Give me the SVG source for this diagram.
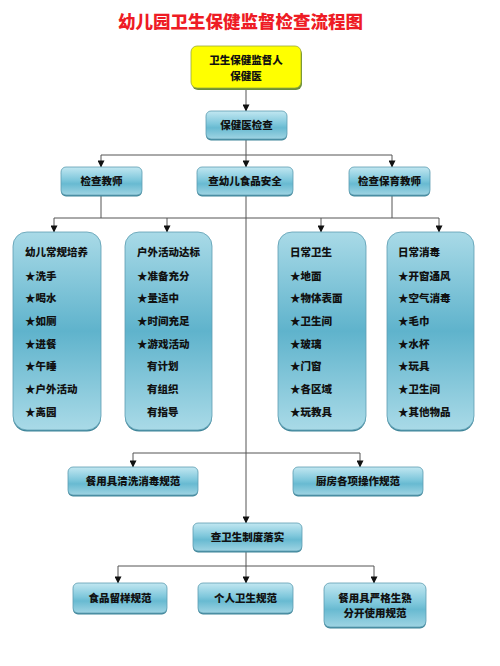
<svg xmlns="http://www.w3.org/2000/svg" width="500" height="666" viewBox="0 0 500 666">
<defs>
<linearGradient id="g" x1="0" y1="0" x2="0" y2="1">
<stop offset="0" stop-color="#c2e7f1"/>
<stop offset="0.45" stop-color="#80c8dc"/>
<stop offset="0.6" stop-color="#68bad1"/>
<stop offset="1" stop-color="#9fd4e3"/>
</linearGradient>
<linearGradient id="gt" x1="0" y1="0" x2="0" y2="1">
<stop offset="0" stop-color="#a9dae7"/>
<stop offset="0.5" stop-color="#5fb3cc"/>
<stop offset="1" stop-color="#a9dae7"/>
</linearGradient>
<marker id="ar" viewBox="0 0 8 8" refX="7.5" refY="4" markerWidth="7" markerHeight="7" orient="auto" markerUnits="userSpaceOnUse">
<path d="M0,0 L8,4 L0,8 Z" fill="#111"/>
</marker>
<style>
.b{fill:url(#g);stroke:#5d9db1;stroke-width:0.8}
.t{fill:url(#gt);stroke:#5d9db1;stroke-width:0.8}
.s{fill:#3f8599}
.c{fill:none;stroke:#555;stroke-width:1}
.a{fill:none;stroke:#555;stroke-width:1;marker-end:url(#ar)}
text{font-family:"Noto Sans CJK SC","Noto Sans",sans-serif;font-weight:900;font-size:10.5px;fill:#111}
.m{text-anchor:middle}
</style>
</defs>
<rect width="500" height="666" fill="#fff"/>
<text x="240.5" y="28" class="m" style="font-size:17.5px;fill:#ee1c25">幼儿园卫生保健监督检查流程图</text>

<g id="connectors">
<path class="a" d="M246,88 V111"/>
<path class="c" d="M246,139 V155"/>
<path class="c" d="M101,155 H392"/>
<path class="a" d="M101,155 V167"/>
<path class="a" d="M246,155 V167"/>
<path class="a" d="M392,155 V167"/>
<path class="c" d="M101,195 V218"/>
<path class="c" d="M392,195 V218"/>
<path class="c" d="M54,218 H439"/>
<path class="a" d="M54,218 V232"/>
<path class="a" d="M167,218 V232"/>
<path class="a" d="M321,218 V232"/>
<path class="a" d="M439,218 V232"/>
<path class="a" d="M246,195 V523"/>
<path class="c" d="M133,453 H360"/>
<path class="a" d="M133,453 V467"/>
<path class="a" d="M360,453 V467"/>
<path class="c" d="M246,551 V566"/>
<path class="c" d="M118,566 H374"/>
<path class="a" d="M118,566 V583"/>
<path class="a" d="M246,566 V583"/>
<path class="a" d="M374,566 V583"/>
</g>

<g id="supervisor">
<rect x="192" y="48" width="110" height="42" rx="6" fill="#6a8f3a"/>
<rect x="191" y="46" width="110" height="42" rx="6" fill="#ffff00" stroke="#9aa83a" stroke-width="0.8"/>
<text x="246" y="64" class="m">卫生保健监督人</text>
<text x="246" y="80" class="m">保健医</text>
</g>

<g id="doctor-check">
<rect x="206" y="112.5" width="81" height="28" rx="5" class="s"/>
<rect x="206" y="111" width="81" height="28" rx="5" class="b"/>
<text x="246.5" y="129" class="m">保健医检查</text>
</g>

<g id="check-teacher">
<rect x="61" y="168.5" width="81" height="28" rx="5" class="s"/>
<rect x="61" y="167" width="81" height="28" rx="5" class="b"/>
<text x="101.5" y="185" class="m">检查教师</text>
</g>
<g id="food-safety">
<rect x="197" y="168.5" width="96" height="28" rx="5" class="s"/>
<rect x="197" y="167" width="96" height="28" rx="5" class="b"/>
<text x="245" y="185" class="m">查幼儿食品安全</text>
</g>
<g id="check-care-teacher">
<rect x="349" y="168.5" width="81" height="28" rx="5" class="s"/>
<rect x="349" y="167" width="81" height="28" rx="5" class="b"/>
<text x="389.5" y="185" class="m">检查保育教师</text>
</g>

<g id="routine">
<rect x="13" y="233.5" width="88" height="198" rx="14" class="s"/>
<rect x="13" y="232" width="88" height="198" rx="14" class="t"/>
<text x="25" y="256">幼儿常规培养</text>
<text x="25" y="280">★洗手</text>
<text x="25" y="302">★喝水</text>
<text x="25" y="325">★如厕</text>
<text x="25" y="348">★进餐</text>
<text x="25" y="370">★午睡</text>
<text x="25" y="393">★户外活动</text>
<text x="25" y="416">★离园</text>
</g>
<g id="outdoor">
<rect x="125" y="233.5" width="87" height="198" rx="14" class="s"/>
<rect x="125" y="232" width="87" height="198" rx="14" class="t"/>
<text x="137" y="256">户外活动达标</text>
<text x="137" y="280">★准备充分</text>
<text x="137" y="302">★量适中</text>
<text x="137" y="325">★时间充足</text>
<text x="137" y="348">★游戏活动</text>
<text x="147" y="370">有计划</text>
<text x="147" y="393">有组织</text>
<text x="147" y="416">有指导</text>
</g>
<g id="daily-hygiene">
<rect x="278" y="233.5" width="88" height="198" rx="14" class="s"/>
<rect x="278" y="232" width="88" height="198" rx="14" class="t"/>
<text x="290" y="256">日常卫生</text>
<text x="290" y="280">★地面</text>
<text x="290" y="302">★物体表面</text>
<text x="290" y="325">★卫生间</text>
<text x="290" y="348">★玻璃</text>
<text x="290" y="370">★门窗</text>
<text x="290" y="393">★各区域</text>
<text x="290" y="416">★玩教具</text>
</g>
<g id="daily-disinfection">
<rect x="387" y="233.5" width="87" height="198" rx="14" class="s"/>
<rect x="387" y="232" width="87" height="198" rx="14" class="t"/>
<text x="398" y="256">日常消毒</text>
<text x="398" y="280">★开窗通风</text>
<text x="398" y="302">★空气消毒</text>
<text x="398" y="325">★毛巾</text>
<text x="398" y="348">★水杯</text>
<text x="398" y="370">★玩具</text>
<text x="398" y="393">★卫生间</text>
<text x="398" y="416">★其他物品</text>
</g>

<g id="tableware-cleaning">
<rect x="68" y="468.5" width="130" height="28" rx="5" class="s"/>
<rect x="68" y="467" width="130" height="28" rx="5" class="b"/>
<text x="133" y="485" class="m">餐用具清洗消毒规范</text>
</g>
<g id="kitchen-ops">
<rect x="293" y="468.5" width="130" height="28" rx="5" class="s"/>
<rect x="293" y="467" width="130" height="28" rx="5" class="b"/>
<text x="358" y="485" class="m">厨房各项操作规范</text>
</g>

<g id="system-check">
<rect x="193" y="524.5" width="109" height="28" rx="5" class="s"/>
<rect x="193" y="523" width="109" height="28" rx="5" class="b"/>
<text x="247.5" y="541" class="m">查卫生制度落实</text>
</g>

<g id="food-sample">
<rect x="73" y="584.5" width="94" height="30" rx="5" class="s"/>
<rect x="73" y="583" width="94" height="30" rx="5" class="b"/>
<text x="120" y="602" class="m">食品留样规范</text>
</g>
<g id="personal-hygiene">
<rect x="198" y="584.5" width="95" height="30" rx="5" class="s"/>
<rect x="198" y="583" width="95" height="30" rx="5" class="b"/>
<text x="245.5" y="602" class="m">个人卫生规范</text>
</g>
<g id="tableware-separate">
<rect x="324" y="584.5" width="102" height="44" rx="6" class="s"/>
<rect x="324" y="583" width="102" height="44" rx="6" class="b"/>
<text x="375" y="602" class="m">餐用具严格生熟</text>
<text x="375" y="617" class="m">分开使用规范</text>
</g>
</svg>
